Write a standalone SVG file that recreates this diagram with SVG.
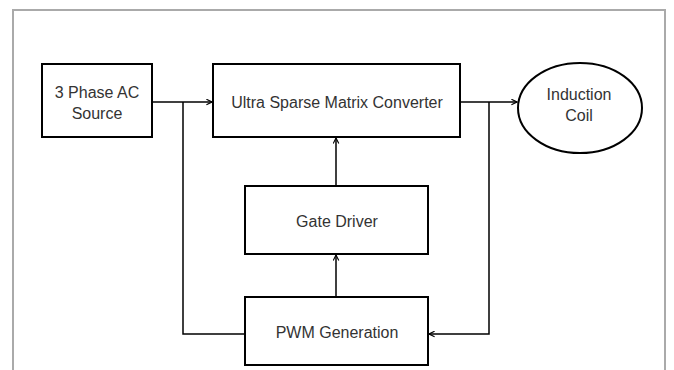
<svg xmlns="http://www.w3.org/2000/svg" width="674" height="370" viewBox="0 0 674 370">
<defs>
<style>
.box{fill:#fff;stroke:#000;stroke-width:2}
.lbl{font-family:"Liberation Sans",Arial,sans-serif;font-size:16px;fill:#333;text-anchor:middle}
.wire{fill:none;stroke:#000;stroke-width:1.5}
</style>
<marker id="arr" viewBox="0 0 10 10" refX="9" refY="5" markerWidth="7" markerHeight="7" orient="auto" markerUnits="userSpaceOnUse">
<path d="M1,1 L9,5 L1,9" fill="none" stroke="#000" stroke-width="1.6"/>
</marker>
</defs>
<rect width="674" height="370" fill="#fff"/>
<path d="M13,372 V10 H665 V372" fill="none" stroke="#aaa" stroke-width="2"/>
<g id="connectors">
<path class="wire" d="M152,102 H212" marker-end="url(#arr)"/>
<path class="wire" d="M460,102 H517" marker-end="url(#arr)"/>
<path class="wire" d="M336,186 V138" marker-end="url(#arr)"/>
<path class="wire" d="M336,297 V255" marker-end="url(#arr)"/>
<path class="wire" d="M183,102 V334 H245"/>
<path class="wire" d="M489,102 V334 H429" marker-end="url(#arr)"/>
</g>
<g id="source">
<rect class="box" x="42" y="64" width="110" height="73"/>
<text class="lbl" x="97" y="98">3 Phase AC</text>
<text class="lbl" x="97" y="119">Source</text>
</g>
<g id="converter">
<rect class="box" x="213" y="64" width="247" height="73"/>
<text class="lbl" x="337" y="108">Ultra Sparse Matrix Converter</text>
</g>
<g id="coil">
<ellipse class="box" cx="580" cy="108" rx="62" ry="45"/>
<text class="lbl" x="579" y="100">Induction</text>
<text class="lbl" x="579" y="121">Coil</text>
</g>
<g id="gate">
<rect class="box" x="245" y="186" width="183" height="68"/>
<text class="lbl" x="337" y="227">Gate Driver</text>
</g>
<g id="pwm">
<rect class="box" x="245" y="297" width="183" height="68"/>
<text class="lbl" x="337" y="338">PWM Generation</text>
</g>
</svg>
